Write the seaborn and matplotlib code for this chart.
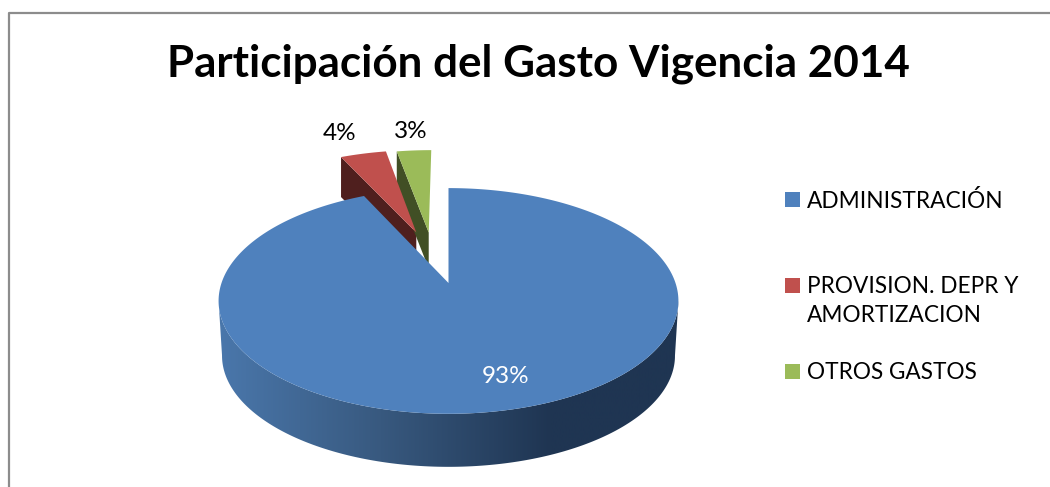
#!/usr/bin/env python3
import matplotlib
matplotlib.use("Agg")
import matplotlib.pyplot as plt
import numpy as np
import seaborn as sns
from matplotlib.colors import LinearSegmentedColormap
from matplotlib.patches import Rectangle

title = "Participación del Gasto Vigencia 2014"
categories = ["ADMINISTRACIÓN", "PROVISION. DEPR Y\nAMORTIZACION", "OTROS GASTOS"]
shares = [93, 4, 3]
colors = ["#4F81BD", "#C0504D", "#9BBB59"]
cut_colors = ["#1F3552", "#4F1F1E", "#414F25"]

# pie projected like a 3D chart: px position of the centre, radii and tilt
CX, CY = 448.5, 283.0
RX, RY, TILT = 227.0, 110.0, 0.159
DEPTH = 55.0
LOW_SCALE = 0.985
OFFSETS = [(0.0, 0.0), (-0.153, 0.495), (-0.094, 0.495)]
CUT_DEPTH = [55.0, 40.0, 36.0]
# angles where the tilted circle is widest, the wall's silhouette starts there
WALL_FROM, WALL_TO = 189, 351


def project(u, v, depth=0.0):
    w = 1 + TILT * v
    scale = LOW_SCALE if depth else 1.0
    return CX + scale * RX * u / w, CY + depth + scale * -RY * v / w


def arc(theta1, theta2, offset=(0.0, 0.0), depth=0.0):
    t = np.radians(np.linspace(theta1, theta2, 300))
    return project(np.cos(t) + offset[0], np.sin(t) + offset[1], depth)


def main() -> None:
    sns.set_theme(style="white")
    plt.rcParams["font.family"] = ["Lato", "DejaVu Sans"]

    fig = plt.figure(figsize=(10.5, 4.87), dpi=100)
    ax = fig.add_axes([0, 0, 1, 1])
    ax.set_xlim(0, 1050)
    ax.set_ylim(487, 0)
    ax.axis("off")

    # chart frame, runs off the bottom and right of the picture
    ax.plot([8.5, 8.5, 1050], [487, 12.5, 12.5], color="#8C8C8C", lw=1.6)

    ax.text(538, 63.5, title, ha="center", va="center", fontsize=31.7,
            fontweight="bold", color="black")

    # slice angles run clockwise from 12 o'clock
    edges = 90 - np.cumsum([0] + shares) * 360 / sum(shares)

    # outer wall of the first slice with its horizontal shading
    top_x, top_y = arc(WALL_FROM, WALL_TO)
    low_x, low_y = arc(WALL_FROM, WALL_TO, depth=DEPTH)
    wall = ax.fill(np.r_[top_x, low_x[::-1]], np.r_[top_y, low_y[::-1]],
                   color="none", lw=0)[0]
    cmap = LinearSegmentedColormap.from_list(
        "wall", [(0, "#4A77AB"), (0.35, "#38597F"), (0.72, "#1F3552"), (1, "#1F3552")]
    )
    image = ax.imshow(np.linspace(0, 1, 256)[None, :], extent=(219, 680, 487, 0),
                      cmap=cmap, aspect="auto", zorder=1)
    image.set_clip_path(wall)
    ax.set_xlim(0, 1050)
    ax.set_ylim(487, 0)

    # exploded slices first, the big one covers their feet
    for i in [1, 2]:
        off = OFFSETS[i]
        xo, yo = project(np.cos(np.radians(edges[i])) + off[0],
                         np.sin(np.radians(edges[i])) + off[1])
        xa, ya = project(off[0], off[1])
        d = CUT_DEPTH[i]
        ax.fill([xo, xa, xa, xo], [yo, ya, ya + d, yo + d], color=cut_colors[i],
                lw=0, zorder=2)
        x, y = arc(edges[i + 1], edges[i], off)
        ax.fill(np.r_[xa, x], np.r_[ya, y], color=colors[i], lw=0, zorder=3)

    x, y = arc(edges[1], edges[0])
    xa, ya = project(0, 0)
    ax.fill(np.r_[xa, x], np.r_[ya, y], color=colors[0], lw=0, zorder=4)

    label_pos = [(505.5, 376.5), (339.5, 134), (411, 132)]
    for share, (lx, ly), col in zip(shares, label_pos, ["white", "black", "black"]):
        ax.text(lx, ly, f"{share}%", ha="center", va="center", fontsize=17.5,
                color=col, zorder=5)

    legend_y = [199.5, 285.5, 371.5]
    for name, col, ly in zip(categories, colors, legend_y):
        ax.add_patch(Rectangle((785, ly - 7.5), 15, 15, color=col, lw=0))
        ax.text(807, ly - 9.5, name, ha="left", va="top", fontsize=16.3,
                color="black", linespacing=1.5)

    fig.savefig("out.png", dpi=100)
    plt.close(fig)


if __name__ == "__main__":
    main()
